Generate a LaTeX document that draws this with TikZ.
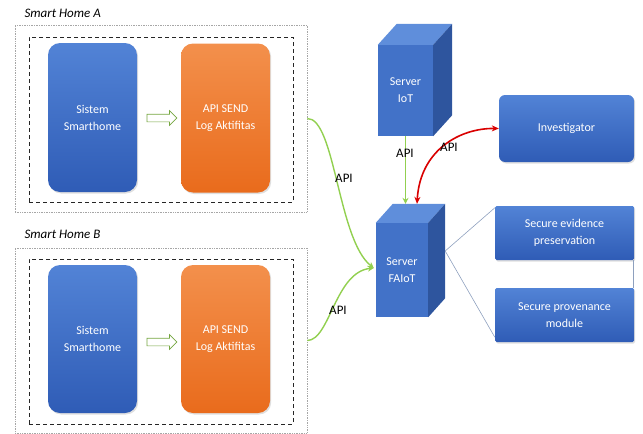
\documentclass[tikz,border=0pt]{standalone}
\usepackage{fontspec}
\setmainfont{Carlito}
\usetikzlibrary{shapes.arrows,arrows.meta,shadows,calc}

\definecolor{blueTop}{HTML}{5283D6}
\definecolor{blueBot}{HTML}{2F5CB6}
\definecolor{orangeTop}{HTML}{F3904C}
\definecolor{orangeBot}{HTML}{E96B1C}
\definecolor{cubeTop}{HTML}{5F8EDB}
\definecolor{cubeFront}{HTML}{4272C8}
\definecolor{cubeSide}{HTML}{2E559E}
\definecolor{apiGreen}{HTML}{92D050}
\definecolor{linkGray}{HTML}{8EA0BE}

\tikzset{
  txt/.style={text=white, align=center, font=\fontsize{12}{17}\selectfont},
  homebox/.style={rounded corners=12pt, minimum width=89pt, minimum height=149pt, inner sep=0pt, txt,
    drop shadow={opacity=0.25, shadow xshift=1.2pt, shadow yshift=-1.5pt}},
  sysbox/.style={homebox, top color=blueTop, bottom color=blueBot},
  sendbox/.style={homebox, top color=orangeTop, bottom color=orangeBot},
  outerframe/.style={draw=gray!70, densely dotted, line width=0.7pt, inner sep=0pt},
  innerframe/.style={draw=black!85, dash pattern=on 4pt off 3pt, line width=0.7pt, inner sep=0pt},
  hollowarrow/.style={single arrow, draw=apiGreen!80!black, fill=white, line width=0.7pt,
    minimum height=30pt, minimum width=0pt, inner sep=3.5pt, single arrow head extend=3.5pt},
  title/.style={anchor=west, font=\fontsize{13}{15}\selectfont\itshape},
  cubefront/.style={fill=cubeFront, inner sep=0pt, txt},
  panel/.style={inner sep=0pt, txt, top color=blueTop, bottom color=blueBot,
    drop shadow={opacity=0.25, shadow xshift=1.2pt, shadow yshift=-1.5pt}},
  apilabel/.style={font=\fontsize{13}{15}\selectfont, text=black},
  apiline/.style={draw=apiGreen, line width=1.4pt, -{Stealth[length=6pt,width=6pt]}},
  redline/.style={draw=red!85!black, line width=1.6pt, {Stealth[length=7pt,width=6pt]}-{Stealth[length=7pt,width=6pt]}},
  thinlink/.style={draw=linkGray, line width=0.6pt},
}

\begin{document}
\begin{tikzpicture}[x=1pt,y=-1pt]
\useasboundingbox (0,0) rectangle (643,434);

% ---------- Smart Home A ----------
\node[title] (titleA) at (21,13) {Smart Home A};
\node[outerframe, minimum width=292pt, minimum height=187pt] (homeA) at (161,118.5) {};
\node[innerframe, minimum width=264pt, minimum height=165pt] (innerA) at (161,119.5) {};
\node[sysbox] (sysA) at (92.5,117.5) {Sistem\\Smarthome};
\node[sendbox] (sendA) at (225.5,118) {API SEND\\Log Aktifitas};
\node[hollowarrow] (flowA) at (160,118) {};

% ---------- Smart Home B ----------
\node[title] (titleB) at (21,234) {Smart Home B};
\node[outerframe, minimum width=292pt, minimum height=185pt] (homeB) at (161,340.5) {};
\node[innerframe, minimum width=264pt, minimum height=165pt] (innerB) at (161,341.5) {};
\node[sysbox, minimum height=148pt] (sysB) at (92.5,339) {Sistem\\Smarthome};
\node[sendbox, minimum height=148pt] (sendB) at (225.5,339) {API SEND\\Log Aktifitas};
\node[hollowarrow] (flowB) at (160,342) {};

% ---------- Server IoT (cube) ----------
\node[cubefront, minimum width=55pt, minimum height=91pt] (iot) at (405.5,90.5) {Server\\IoT};
\fill[cubeTop] (iot.north west) -- ++(19,-21) -- ($(iot.north east)+(19,-21)$) -- (iot.north east) -- cycle;
\fill[cubeSide] (iot.north east) -- ++(19,-21) -- ($(iot.south east)+(19,-21)$) -- (iot.south east) -- cycle;

% ---------- Server FAIoT (cube) ----------
\node[cubefront, minimum width=52pt, minimum height=94pt] (faiot) at (402,270) {Server\\FAIoT};
\fill[cubeTop] (faiot.north west) -- ++(17,-19) -- ($(faiot.north east)+(17,-19)$) -- (faiot.north east) -- cycle;
\fill[cubeSide] (faiot.north east) -- ++(17,-19) -- ($(faiot.south east)+(17,-19)$) -- (faiot.south east) -- cycle;
\coordinate (faiotBack) at ($(faiot.north)+(0,-19)$);
\coordinate (faiotSide) at ($(faiot.east)+(17,-19)$);
\coordinate (faiotRed) at ($(faiot.north)+(15,-19)$);

% ---------- Right-hand panels ----------
\node[panel, rounded corners=6pt, minimum width=135pt, minimum height=67pt] (inv) at (566.5,128.5) {Investigator};
\node[panel, rounded corners=1.5pt, minimum width=139pt, minimum height=54pt] (evid) at (564.5,233) {Secure evidence\\preservation};
\node[panel, rounded corners=1.5pt, minimum width=139pt, minimum height=54pt] (prov) at (564.5,315) {Secure provenance\\module};

% ---------- Connectors ----------
\draw[thinlink] (faiotSide) -- ($(evid.north west)+(0,2)$);
\draw[thinlink] (faiotSide) -- ($(prov.south west)+(0,-5)$);
\draw[thinlink] ($(evid.south east)+(-1,0)$) -- ($(prov.north east)+(-1,0)$);

\draw[apiline] (homeA.east) .. controls (335,118) and (338,240) .. ($(faiot.west)+(-2,-2)$);
\draw[apiline] (homeB.east) .. controls (330,340) and (335,272) .. ($(faiot.west)+(-2,-2)$);
\draw[apiline, line width=1.3pt] (iot.south) -- (iot.south |- faiotBack);
\draw[redline] (faiotRed) .. controls (420,150) and (460,128) .. (inv.west);

\node[apilabel] (lblA) at (344,178) {API};
\node[apilabel] (lblB) at (338,310) {API};
\node[apilabel] (lblIoT) at (405,153) {API};
\node[apilabel] (lblInv) at (449,147) {API};
\end{tikzpicture}
\end{document}
